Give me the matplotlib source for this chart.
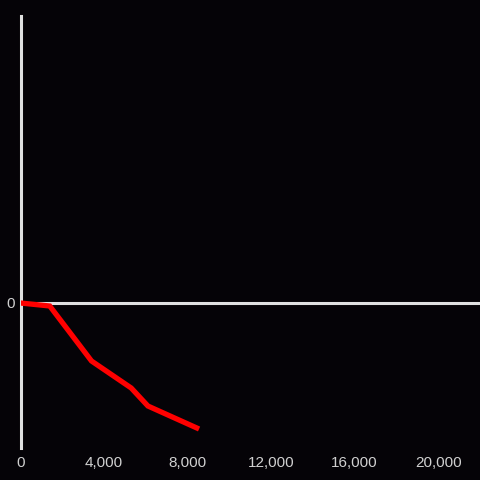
import matplotlib.pyplot as plt
from matplotlib.ticker import FuncFormatter

# --- Dados ---
x_vals = [0, 1400, 3400, 5300, 6100, 8550]
y_vals = [0, -3, -58, -85, -103, -126]

x_ticks = [0, 4000, 8000, 12000, 16000, 20000]
y_ticks = [0]

BG = "#050307"
AXIS_COLOR = "#e0e0e0"
TEXT_COLOR = "#d0d0d0"

fig = plt.figure(figsize=(4.8, 4.8), dpi=100, facecolor=BG)
ax = fig.add_axes([20.5 / 480, 32 / 480, 459.5 / 480, 432 / 480])
ax.set_facecolor(BG)

# linha zero
ax.axhline(0, color=AXIS_COLOR, lw=2.2, zorder=1)
ax.plot(x_vals, y_vals, color="#ff0000", lw=3.8, solid_capstyle="butt",
        solid_joinstyle="miter", zorder=3)

ax.set_xlim(0, 22000)
ax.set_ylim(-145, 287)

ax.set_xticks(x_ticks)
ax.set_yticks(y_ticks)
ax.xaxis.set_major_formatter(FuncFormatter(lambda v, p: f"{int(v):,}"))
ax.tick_params(axis="both", length=0, colors=TEXT_COLOR, labelsize=11,
               labelfontfamily="Liberation Sans")
ax.tick_params(axis="x", pad=6)
ax.tick_params(axis="y", pad=4)

for side in ["top", "right", "bottom"]:
    ax.spines[side].set_visible(False)
ax.spines["left"].set_color(AXIS_COLOR)
ax.spines["left"].set_linewidth(2.2)

fig.savefig("out.png", dpi=100, facecolor=BG)
